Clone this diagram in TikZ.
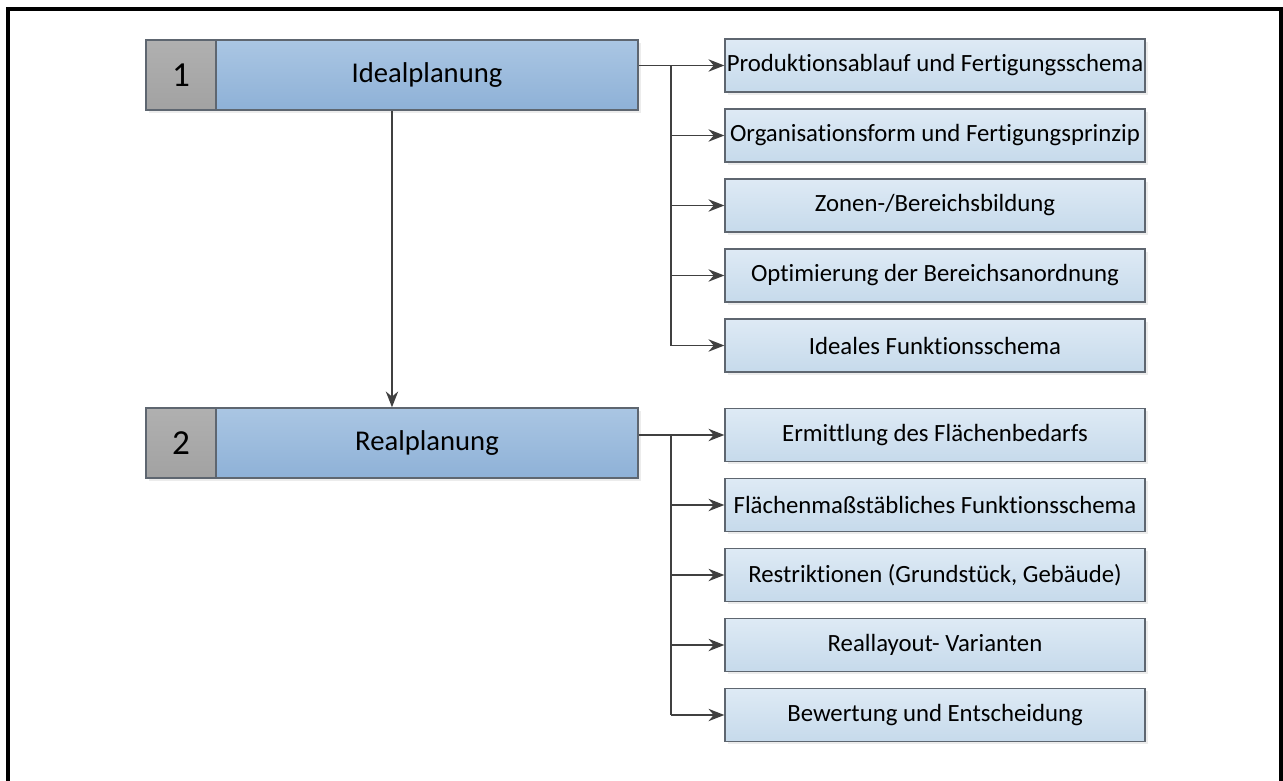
\documentclass[tikz,border=0pt]{standalone}
\usepackage{fontspec}
\setmainfont[RawFeature={-liga}]{Carlito}
\usetikzlibrary{arrows.meta,calc,shadows}

\definecolor{numgray}{HTML}{A2A2A2}
\definecolor{mainblueT}{HTML}{AAC6E3}
\definecolor{mainblueB}{HTML}{8EB1D7}
\definecolor{subblueT}{HTML}{DEEAF5}
\definecolor{subblueB}{HTML}{C6DAEB}
\definecolor{edgegray}{HTML}{5E6670}
\definecolor{linegray}{HTML}{404040}

\tikzset{
    numbox/.style={draw=edgegray, line width=0.8pt, top color=numgray!85, bottom color=numgray,
        minimum width=1.4cm, minimum height=1.4cm, inner sep=0pt, font=\fontsize{20}{24}\selectfont,
        drop shadow={opacity=0.15, shadow xshift=1.5pt, shadow yshift=-1.5pt}},
    phasebox/.style={draw=edgegray, line width=0.8pt, top color=mainblueT, bottom color=mainblueB,
        minimum width=8.44cm, minimum height=1.4cm, inner sep=0pt, font=\fontsize{16.3}{19}\selectfont,
        drop shadow={opacity=0.15, shadow xshift=1.5pt, shadow yshift=-1.5pt}},
    taskbox/.style={draw=edgegray, line width=0.8pt, top color=subblueT, bottom color=subblueB,
        minimum width=8.4cm, minimum height=1.06cm, inner sep=0pt, font=\fontsize{14.1}{17}\selectfont,
        drop shadow={opacity=0.15, shadow xshift=1.5pt, shadow yshift=-1.5pt}},
    conn/.style={draw=linegray, line width=1.1pt, -{Stealth[length=9pt,width=7pt]}},
    trunk/.style={draw=linegray, line width=1.1pt}
}

\begin{document}
\begin{tikzpicture}[x=0.02cm, y=-0.02cm]
    \useasboundingbox (0,0) rectangle (1283,780);
    % frame
    \draw[line width=2.2pt] (8,790) -- (8,9) -- (1281,9) -- (1281,790);

    % phases
    \node[numbox] (num1) at (181,75) {1};
    \node[phasebox] (ideal) at (427,75) {Idealplanung};
    \node[numbox] (num2) at (181,443) {2};
    \node[phasebox] (real) at (427,443) {Realplanung};

    % tasks
    \foreach \txt [count=\i] in {Produktionsablauf und Fertigungsschema,
        Organisationsform und Fertigungsprinzip,
        Zonen-/Bereichsbildung,
        Optimierung der Bereichsanordnung,
        Ideales Funktionsschema}
    {
        \node[taskbox] (i\i) at (935,{65.5+70*(\i-1)}) {\txt};
    }
    \foreach \txt [count=\i] in {Ermittlung des Flächenbedarfs,
        Flächenmaßstäbliches Funktionsschema,
        {Restriktionen (Grundstück, Gebäude)},
        Reallayout- Varianten,
        Bewertung und Entscheidung}
    {
        \node[taskbox] (r\i) at (935,{435+70*(\i-1)}) {\txt};
    }

    % connectors
    \draw[conn] ($(num1.south west)!0.5!(ideal.south east)$) -- ($(num2.north west)!0.5!(real.north east)$);

    \coordinate (ti) at ([xshift=-1.06cm]i1.west);
    \coordinate (tr) at ([xshift=-1.06cm]r1.west);
    \draw[conn] (ideal.east |- i1) -- (i1.west);
    \draw[conn] (real.east |- r1) -- (r1.west);
    \draw[trunk] (ti) -- (ti |- i5);
    \draw[trunk] (tr) -- (tr |- r5);
    \foreach \i in {2,...,5}
    {
        \draw[conn] (ti |- i\i) -- (i\i.west);
        \draw[conn] (tr |- r\i) -- (r\i.west);
    }
\end{tikzpicture}
\end{document}
